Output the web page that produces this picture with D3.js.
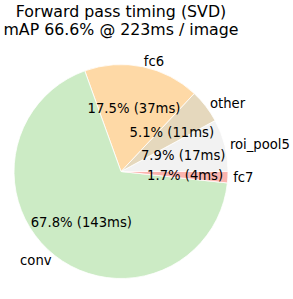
<!DOCTYPE html>
<html>
<head>
<meta charset="utf-8">
<script src="https://cdn.jsdelivr.net/npm/d3@7"></script>
<style>
  html, body { margin: 0; padding: 0; background: #fff; }
  svg { display: block; font-family: "DejaVu Sans", sans-serif; }
</style>
</head>
<body>
<svg id="chart" width="293" height="299"></svg>
<script>
// Data (counter-clockwise from 3 o'clock, as in the reference)
const categories = ["roi_pool5", "other", "fc6", "conv", "fc7"];
const percents = [7.9, 5.1, 17.5, 67.8, 1.7];
const msValues = [17, 11, 37, 143, 4];
const colors = ["#f2f2f2", "#e5d8bd", "#fed9a6", "#ccebc5", "#fbb4ae"];
const titleLines = ["Forward pass timing (SVD)", "mAP 66.6% @ 223ms / image"];

const width = 293, height = 299;
const cx = 121, cy = 171.5, R = 107;

const svg = d3.select("#chart");

const data = categories.map((c, i) => ({ name: c, pct: percents[i], ms: msValues[i], color: colors[i] }));

const pie = d3.pie()
  .sort(null)
  .value(d => d.pct)
  .startAngle(Math.PI / 2)
  .endAngle(Math.PI / 2 - 2 * Math.PI);

const arcs = pie(data);
const arc = d3.arc().innerRadius(0).outerRadius(R);

const g = svg.append("g").attr("transform", `translate(${cx},${cy})`);

g.selectAll("path.slice")
  .data(arcs)
  .join("path")
  .attr("class", "slice")
  .attr("d", arc)
  .attr("fill", d => d.data.color)
  .attr("stroke", "#ffffff")
  .attr("stroke-width", 0.8)
  .attr("stroke-linejoin", "round");

const fs = 13.2;

// outer labels
g.selectAll("text.lbl")
  .data(arcs)
  .join("text")
  .attr("class", "lbl")
  .each(function(d) {
    const m = (d.startAngle + d.endAngle) / 2;
    const x = Math.sin(m) * R * 1.05;
    const y = -Math.cos(m) * R * 1.05;
    d3.select(this)
      .attr("x", x)
      .attr("y", y)
      .attr("dy", "0.36em")
      .attr("text-anchor", x > 0 ? "start" : "end");
  })
  .attr("font-size", fs)
  .attr("fill", "#000")
  .text(d => d.data.name);

// percentage labels
g.selectAll("text.pct")
  .data(arcs)
  .join("text")
  .attr("class", "pct")
  .each(function(d) {
    const m = (d.startAngle + d.endAngle) / 2;
    d3.select(this)
      .attr("x", Math.sin(m) * R * 0.6)
      .attr("y", -Math.cos(m) * R * 0.6)
      .attr("dy", "0.36em")
      .attr("text-anchor", "middle");
  })
  .attr("font-size", fs)
  .attr("fill", "#000")
  .text(d => `${d.data.pct.toFixed(1)}% (${d.data.ms}ms)`);

// title
svg.selectAll("text.title")
  .data(titleLines)
  .join("text")
  .attr("class", "title")
  .attr("x", cx)
  .attr("y", (d, i) => 16.7 + i * 18.2)
  .attr("text-anchor", "middle")
  .attr("font-size", 15.8)
  .attr("fill", "#000")
  .text(d => d);
</script>
</body>
</html>
